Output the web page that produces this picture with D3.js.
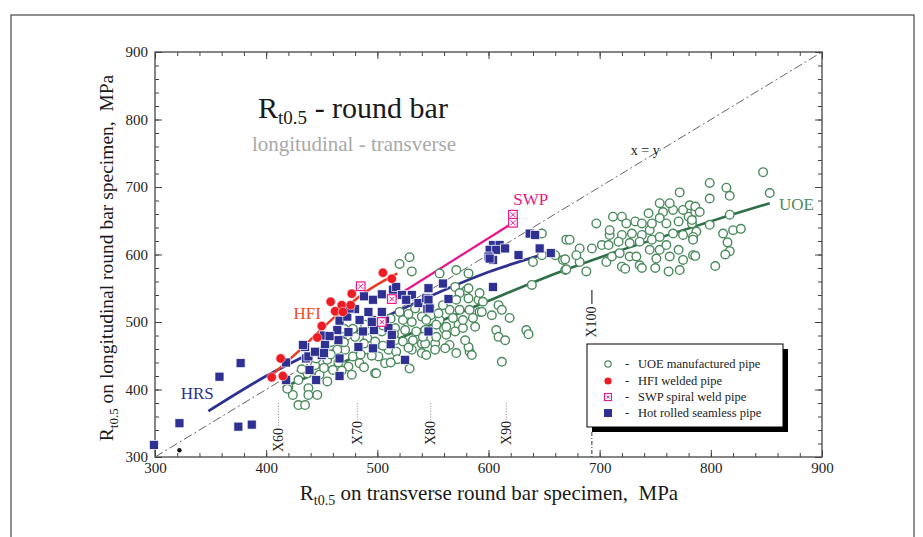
<!DOCTYPE html>
<html>
<head>
<meta charset="utf-8">
<script src="https://cdn.jsdelivr.net/npm/d3@7"></script>
<style>
  html, body { margin: 0; padding: 0; background: #fff; }
  svg { display: block; font-family: "Liberation Serif", "Times New Roman", serif; }
  text { white-space: pre; }
</style>
</head>
<body>
<svg id="chart" width="923" height="537"></svg>
<script>
// ---- Yield strength Rt0.5: transverse (x) vs longitudinal (y), MPa ----

// UOE manufactured pipe
const uoe = [
  [529,596],[520,586],[531,575],[534,520],[523,503],[531,500],[540,508],[516,491],[525,488],[535,486],
  [543,488],[504,486],[516,473],[523,471],[532,473],[540,468],[491,476],[498,471],[510,459],[517,456],
  [531,459],[540,454],[489,459],[501,449],[507,439],[498,424],[484,439],[478,449],[471,459],[464,459],
  [474,434],[477,422],[460,429],[455,444],[444,436],[448,422],[455,412],[437,424],[429,414],[438,402],
  [420,404],[429,377],[435,377],[438,392],[446,392],[424,392],[419,401],[489,496],
  [570,552],[580,547],[499,424],[529,431],[583,456],
  [470,470],[480,478],[488,468],[458,470],[463,480],[470,490],[478,490],[505,495],[512,505],[520,515],
  [528,512],[548,510],[556,503],[505,465],[515,482],[495,450],[485,452],[465,440],[445,446],[432,430],
  [452,432],[488,433],[518,445],[528,462],[560,490],[573,496],[603,510],[468,428],[512,440],[458,452],
  [648,631],[670,622],[660,599],[667,592],[669,577],[640,589],[556,572],[571,577],[582,572],[582,550],
  [574,543],[591,533],[595,530],[609,525],[612,518],[619,506],[639,555],[607,488],[609,478],[615,473],
  [634,488],[612,441],[582,463],[585,451],[571,454],[579,473],[565,466],[561,461],[552,468],[543,468],
  [541,478],[553,478],[562,481],[570,486],[577,491],[588,493],[577,503],[586,506],[568,506],[562,493],
  [553,496],[544,503],[555,513],[565,518],[574,518],[583,518],[592,515],[559,525],[571,533],[582,535],
  [592,543],[547,523],[544,451],[552,459],[594,515],[636,482],[648,599],
  [772,692],[697,646],[673,622],[669,593],[670,578],[688,575],[682,609],[693,609],[682,589],[679,599],
  [702,614],[709,629],[708,614],[706,589],[711,597],[709,636],[712,656],[720,656],[724,646],[732,649],
  [738,646],[720,629],[729,631],[738,629],[745,636],[717,619],[727,617],[736,619],[747,622],[754,626],
  [718,602],[727,597],[733,597],[736,584],[720,582],[723,579],[738,580],[745,607],[754,607],[760,614],
  [763,597],[751,594],[750,580],[762,575],[771,607],[775,592],[772,577],[784,599],[766,631],[775,629],
  [783,646],[780,656],[775,666],[766,666],[757,663],[754,676],[763,676],[781,673],[754,654],[760,646],
  [771,649],[786,663],[787,634],[747,646],[744,661],
  [847,722],[853,691],[799,706],[814,699],[817,687],[799,683],[786,671],[790,663],[783,651],[799,644],
  [817,659],[784,626],[784,622],[811,631],[820,636],[827,638],[815,618],[817,605],[813,600],[786,598],
  [804,583]
];

// HFI welded pipe
const hfi = [
  [405,418],[413,446],[415,420],[446,477],[450,494],[458,530],[462,516],[468,525],[469,515],[476,525],
  [477,542],[505,573],[513,564]
];

// SWP spiral weld pipe
const swp = [[485,553],[513,534],[504,500],[622,659],[622,647]];

// Hot rolled seamless pipe
const hrs = [
  [299,318],[322,350],[358,419],[377,439],[375,345],[387,348],
  [418,440],[418,414],[436,446],[435,463],[439,429],[445,414],[438,449],[450,451],[453,478],[452,480],
  [453,466],[452,454],[464,488],[466,502],[465,473],[466,446],[466,420],[473,508],[474,485],[480,519],
  [475,520],[484,503],[487,486],[483,463],[488,538],[495,503],[496,533],[497,488],[496,461],[492,515],
  [495,500],[504,541],[507,502],[510,491],[512,467],[513,481],[514,548],[517,552],[522,540],[531,540],
  [526,533],[537,528],[544,535],[545,519],[525,444],[504,515],[433,466],[444,456],[457,479],
  [546,550],[559,557],[564,534],[546,533],[547,520],[546,486],[604,552],
  [637,631],[642,629],[604,614],[610,614],[601,607],[607,607],[615,609],[600,597],[604,592],[627,599],
  [646,609],[656,602],[601,594]
];

// Unassigned single specimen
const other = [[322,310]];

// Trend curves per pipe type
const hrsFit = [[348,368],[400,420],[450,462],[500,502],[550,540],[600,574],[657,604]];
const hfiFit = [[402,417],[430,458],[460,505],[490,545],[518,572]];
const swpFit = [[513,534],[620,645]];
const uoeFit = [[415,403],[500,462],[598,530],[664,574],[715,604],[775,636],[817,658],[853,676]];

// Grade marks on the transverse axis
const gradeNames = ["X60","X70","X80","X90","X100"];
const gradeValues = [411,482,548,616,693];

// Axis ticks
const majorTicks = [300,400,500,600,700,800,900];
const minorTicks = d3.range(300, 901, 20);

const legendLabels = ["UOE manufactured pipe","HFI welded pipe","SWP spiral weld pipe","Hot rolled seamless pipe"];

// ---- drawing ----
const C = {
  uoe: "#4a8a5c", uoeLine: "#2f7048",
  hrs: "#2e3192", hfi: "#ed1c24", hfiLine: "#ea3a26", hfiText: "#ef4b26",
  swp: "#e8168a", grid: "#444"
};

const svg = d3.select("#chart");
svg.append("rect").attr("width", 923).attr("height", 537).attr("fill", "#fff");

// outer frame
svg.append("rect").attr("x", 11).attr("y", 15).attr("width", 903).attr("height", 580)
  .attr("fill", "none").attr("stroke", "#555").attr("stroke-width", 1.3);

const x = d3.scaleLinear().domain([300, 900]).range([155, 822]);
const y = d3.scaleLinear().domain([300, 900]).range([457, 52]);

function styleAxis(g) {
  g.select(".domain").remove();
  g.selectAll("line").attr("stroke", C.grid).attr("stroke-width", 1);
  g.selectAll("text").attr("font-family", "Liberation Serif, serif").attr("font-size", 15).attr("fill", "#222");
}

const gb = svg.append("g").attr("transform", "translate(0,457)");
gb.append("g").call(d3.axisBottom(x).tickValues(minorTicks).tickSize(-4).tickFormat("")).call(styleAxis);
gb.append("g").call(d3.axisBottom(x).tickValues(majorTicks).tickSize(-7).tickPadding(5).tickFormat(d3.format("d"))).call(styleAxis);

const gt = svg.append("g").attr("transform", "translate(0,52)");
gt.append("g").call(d3.axisTop(x).tickValues(minorTicks).tickSize(-4).tickFormat("")).call(styleAxis);
gt.append("g").call(d3.axisTop(x).tickValues(majorTicks).tickSize(-7).tickFormat("")).call(styleAxis);

const gl = svg.append("g").attr("transform", "translate(155,0)");
gl.append("g").call(d3.axisLeft(y).tickValues(minorTicks).tickSize(-4).tickFormat("")).call(styleAxis);
gl.append("g").call(d3.axisLeft(y).tickValues(majorTicks).tickSize(-7).tickPadding(7).tickFormat(d3.format("d"))).call(styleAxis);

const gr = svg.append("g").attr("transform", "translate(822,0)");
gr.append("g").call(d3.axisRight(y).tickValues(minorTicks).tickSize(-4).tickFormat("")).call(styleAxis);
gr.append("g").call(d3.axisRight(y).tickValues(majorTicks).tickSize(-7).tickFormat("")).call(styleAxis);

// plot frame
svg.append("rect").attr("x", x(300)).attr("y", y(900))
  .attr("width", x(900) - x(300)).attr("height", y(300) - y(900))
  .attr("fill", "none").attr("stroke", "#444").attr("stroke-width", 1.3);

// x = y reference
svg.append("line").attr("x1", x(300)).attr("y1", y(300)).attr("x2", x(900)).attr("y2", y(900))
  .attr("stroke", "#666").attr("stroke-width", 1).attr("stroke-dasharray", "9,3,2,3");
svg.append("text").attr("x", x(741)).attr("y", y(748)).attr("text-anchor", "middle")
  .attr("font-size", 14).attr("fill", "#222").text("x = y");

// grade marks
gradeNames.forEach((name, i) => {
  const gx = x(gradeValues[i]);
  if (name === "X100") {
    svg.append("line").attr("x1", gx).attr("x2", gx).attr("y1", 290).attr("y2", 304)
      .attr("stroke", "#333").attr("stroke-width", 1.2);
    svg.append("text").attr("transform", `translate(${gx + 4.5},322) rotate(-90)`)
      .attr("text-anchor", "middle").attr("font-size", 14).attr("fill", "#222").text(name);
    svg.append("line").attr("x1", gx).attr("x2", gx).attr("y1", 432).attr("y2", 457)
      .attr("stroke", "#333").attr("stroke-width", 1).attr("stroke-dasharray", "4,2,1,2");
  } else {
    const ty = name === "X60" ? 440 : 433;
    svg.append("line").attr("x1", gx).attr("x2", gx).attr("y1", 403).attr("y2", ty - 13)
      .attr("stroke", "#999").attr("stroke-width", 1).attr("stroke-dasharray", "1.2,1.5");
    svg.append("text").attr("transform", `translate(${gx + 4.5},${ty}) rotate(-90)`)
      .attr("text-anchor", "middle").attr("font-size", 14).attr("fill", "#222").text(name);
  }
});

// trend curves
const line = d3.line().x(d => x(d[0])).y(d => y(d[1])).curve(d3.curveMonotoneX);
svg.append("path").datum(uoeFit).attr("d", line).attr("fill", "none").attr("stroke", C.uoeLine).attr("stroke-width", 2.6);
svg.append("path").datum(hrsFit).attr("d", line).attr("fill", "none").attr("stroke", C.hrs).attr("stroke-width", 2.8);
svg.append("path").datum(hfiFit).attr("d", line).attr("fill", "none").attr("stroke", C.hfiLine).attr("stroke-width", 2.6);
svg.append("path").datum(swpFit).attr("d", line).attr("fill", "none").attr("stroke", C.swp).attr("stroke-width", 2.2);

// markers
function drawCircleOpen(g, data) {
  g.selectAll(null).data(data).join("circle")
    .attr("cx", d => x(d[0])).attr("cy", d => y(d[1])).attr("r", 4.3)
    .attr("fill", "#fff").attr("stroke", C.uoe).attr("stroke-width", 1.4);
}
function drawSquares(g, data) {
  g.selectAll(null).data(data).join("rect")
    .attr("x", d => x(d[0]) - 4.5).attr("y", d => y(d[1]) - 4.5).attr("width", 9).attr("height", 9)
    .attr("fill", C.hrs).attr("stroke", "#fff").attr("stroke-width", 0.7);
}
function drawDots(g, data) {
  g.selectAll(null).data(data).join("circle")
    .attr("cx", d => x(d[0])).attr("cy", d => y(d[1])).attr("r", 4.7)
    .attr("fill", C.hfi).attr("stroke", "#fff").attr("stroke-width", 0.5);
}
function drawSwp(g, data, s) {
  const m = g.selectAll(null).data(data).join("g")
    .attr("transform", d => `translate(${x(d[0])},${y(d[1])})`);
  m.append("rect").attr("x", -s).attr("y", -s).attr("width", 2 * s).attr("height", 2 * s)
    .attr("fill", "#fff").attr("stroke", C.swp).attr("stroke-width", 1.2);
  m.append("path").attr("d", `M${-s + 2},${-s + 2}L${s - 2},${s - 2}M${s - 2},${-s + 2}L${-s + 2},${s - 2}`)
    .attr("stroke", C.swp).attr("stroke-width", 1);
}

drawCircleOpen(svg.append("g"), uoe);
drawSquares(svg.append("g"), hrs);
drawDots(svg.append("g"), hfi);
drawSwp(svg.append("g"), swp, 4.3);
svg.append("g").selectAll(null).data(other).join("circle")
  .attr("cx", d => x(d[0])).attr("cy", d => y(d[1])).attr("r", 2.2).attr("fill", "#111");

// curve labels
svg.append("text").attr("x", x(338)).attr("y", y(386)).attr("text-anchor", "middle")
  .attr("font-size", 17).attr("fill", C.hrs).text("HRS");
svg.append("text").attr("x", x(437)).attr("y", y(505)).attr("text-anchor", "middle")
  .attr("font-size", 17).attr("fill", C.hfiText).text("HFI");
svg.append("text").attr("x", x(638)).attr("y", y(673)).attr("text-anchor", "middle")
  .attr("font-size", 17).attr("fill", C.swp).text("SWP");
svg.append("text").attr("x", x(877)).attr("y", y(666)).attr("text-anchor", "middle")
  .attr("font-size", 17).attr("fill", C.uoe).text("UOE");

// title
const title = svg.append("text").attr("x", 353).attr("y", 118).attr("text-anchor", "middle").attr("fill", "#1a1a1a");
title.append("tspan").attr("font-size", 30).text("R");
title.append("tspan").attr("font-size", 19).attr("dy", 6).text("t0.5");
title.append("tspan").attr("font-size", 30).attr("dy", -6).text(" - round bar");
svg.append("text").attr("x", 354).attr("y", 151).attr("text-anchor", "middle")
  .attr("font-size", 21).attr("fill", "#a9a9a9").text("longitudinal - transverse");

// axis titles
const xt = svg.append("text").attr("x", 489).attr("y", 500).attr("text-anchor", "middle").attr("fill", "#1a1a1a");
xt.append("tspan").attr("font-size", 21).text("R");
xt.append("tspan").attr("font-size", 14).attr("dy", 5).text("t0.5");
xt.append("tspan").attr("font-size", 21).attr("dy", -5).text(" on transverse round bar specimen,  MPa");

const yt = svg.append("text").attr("transform", "translate(113,258) rotate(-90)").attr("text-anchor", "middle").attr("fill", "#1a1a1a");
yt.append("tspan").attr("font-size", 19.5).text("R");
yt.append("tspan").attr("font-size", 13).attr("dy", 5).text("t0.5");
yt.append("tspan").attr("font-size", 19.5).attr("dy", -5).text(" on longitudinal round bar specimen,  MPa");

// legend
const lg = svg.append("g").attr("transform", "translate(587,344)");
lg.append("rect").attr("x", 5).attr("y", 5).attr("width", 196).attr("height", 83).attr("fill", "#000");
lg.append("rect").attr("width", 196).attr("height", 83).attr("fill", "#fff").attr("stroke", "#000").attr("stroke-width", 1);
const rowsY = [20, 37, 53, 69];
lg.append("circle").attr("cx", 21).attr("cy", rowsY[0]).attr("r", 3.2).attr("fill", "#fff").attr("stroke", C.uoe).attr("stroke-width", 1.2);
lg.append("circle").attr("cx", 21).attr("cy", rowsY[1]).attr("r", 3.6).attr("fill", C.hfi);
lg.append("rect").attr("x", 17.5).attr("y", rowsY[2] - 3.5).attr("width", 7).attr("height", 7).attr("fill", "#fff").attr("stroke", C.swp).attr("stroke-width", 1.1);
lg.append("path").attr("d", `M19.5,${rowsY[2] - 1.5}L22.5,${rowsY[2] + 1.5}M22.5,${rowsY[2] - 1.5}L19.5,${rowsY[2] + 1.5}`).attr("stroke", C.swp).attr("stroke-width", 0.9);
lg.append("rect").attr("x", 17).attr("y", rowsY[3] - 4).attr("width", 8).attr("height", 8).attr("fill", C.hrs);
legendLabels.forEach((t, i) => {
  lg.append("text").attr("x", 40).attr("y", rowsY[i]).attr("dy", "0.35em").attr("text-anchor", "middle")
    .attr("font-size", 12.5).attr("fill", "#222").text("-");
  lg.append("text").attr("x", 51).attr("y", rowsY[i]).attr("dy", "0.35em")
    .attr("font-size", 12.5).attr("fill", "#222").text(t);
});
</script>
</body>
</html>
